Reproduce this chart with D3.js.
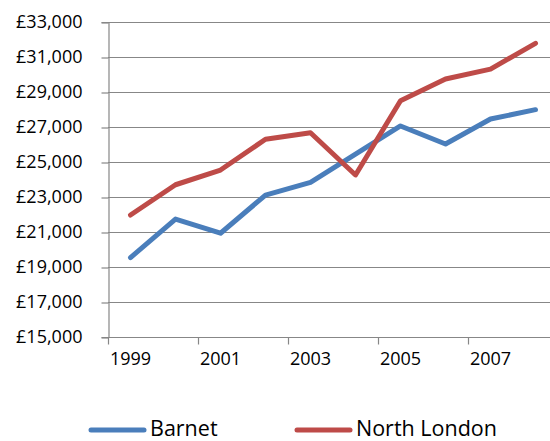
<!DOCTYPE html>
<html>
<head>
<meta charset="utf-8">
<script src="https://cdn.jsdelivr.net/npm/d3@7"></script>
<style>
  html, body { margin: 0; padding: 0; background: #fff; }
  svg { display: block; font-family: "Open Sans", sans-serif; }
</style>
</head>
<body>
<svg id="chart" width="550" height="441"></svg>
<script>
// Average earnings by year
const years = ["1999","2000","2001","2002","2003","2004","2005","2006","2007","2008"];
const barnet = [19540, 21740, 20930, 23110, 23840, 25450, 27060, 26030, 27460, 27990];
const northLondon = [21970, 23700, 24540, 26300, 26670, 24260, 28500, 29740, 30310, 31780];
const yTicks = [15000, 17000, 19000, 21000, 23000, 25000, 27000, 29000, 31000, 33000];
const xLabels = ["1999", "2001", "2003", "2005", "2007"];

const seriesList = [
  { name: "Barnet", values: barnet, color: "#4A7EBB" },
  { name: "North London", values: northLondon, color: "#BE4B48" }
];

const svg = d3.select("#chart");
const gridColor = "#878787";

const x = d3.scaleBand().domain(years).range([108, 558]).padding(0);
const y = d3.scaleLinear().domain([15000, 33000]).range([337, 22]);

// horizontal gridlines
svg.append("g")
  .selectAll("line")
  .data(yTicks)
  .join("line")
  .attr("x1", 108).attr("x2", 560)
  .attr("y1", d => Math.round(y(d)) + 0.5)
  .attr("y2", d => Math.round(y(d)) + 0.5)
  .attr("stroke", gridColor).attr("stroke-width", 1.2);

// y axis
const yAxis = d3.axisLeft(y)
  .tickValues(yTicks)
  .tickSize(7)
  .tickPadding(19)
  .tickFormat(d => "£" + d3.format(",")(d));
const gy = svg.append("g").attr("transform", "translate(108.5,0)").call(yAxis);
gy.select(".domain").attr("stroke", gridColor).attr("stroke-width", 1.2);
gy.selectAll(".tick line").attr("stroke", gridColor).attr("stroke-width", 1.2)
  .attr("transform", "translate(0,0.5)");
gy.selectAll(".tick text").attr("fill", "#000").style("font-size", "18px")
  .style("font-family", "'Open Sans', sans-serif");

// x axis: ticks every second category, labels centred in the category
const gx = svg.append("g").attr("transform", "translate(0,337.5)");
gx.append("line").attr("x1", 108).attr("x2", 560).attr("y1", 0).attr("y2", 0)
  .attr("stroke", gridColor).attr("stroke-width", 1.2);
gx.selectAll("line.tk")
  .data(years.filter((d, i) => i % 2 === 0))
  .join("line").attr("class", "tk")
  .attr("x1", d => Math.round(x(d)) + 0.5).attr("x2", d => Math.round(x(d)) + 0.5)
  .attr("y1", 0).attr("y2", 7)
  .attr("stroke", gridColor).attr("stroke-width", 1.2);
gx.selectAll("text")
  .data(xLabels)
  .join("text")
  .attr("x", d => x(d) + x.bandwidth() / 2)
  .attr("y", 27)
  .attr("text-anchor", "middle")
  .style("font-size", "18px")
  .attr("fill", "#000")
  .text(d => d);

// series lines
const line = d3.line()
  .x((d, i) => x(years[i]) + x.bandwidth() / 2)
  .y(d => y(d));

svg.append("g")
  .selectAll("path")
  .data(seriesList)
  .join("path")
  .attr("d", s => line(s.values))
  .attr("fill", "none")
  .attr("stroke", s => s.color)
  .attr("stroke-width", 5)
  .attr("stroke-linejoin", "round")
  .attr("stroke-linecap", "round");

// legend
const legendPos = [{ x1: 91, x2: 144, tx: 150 }, { x1: 297, x2: 350, tx: 356 }];
const lg = svg.append("g").attr("transform", "translate(0,430)");
seriesList.forEach((s, i) => {
  const p = legendPos[i];
  lg.append("line").attr("x1", p.x1).attr("x2", p.x2).attr("y1", 0).attr("y2", 0)
    .attr("stroke", s.color).attr("stroke-width", 5).attr("stroke-linecap", "round");
  lg.append("text").attr("x", p.tx).attr("y", 0).attr("dy", "0.3em")
    .style("font-size", "21.5px").attr("fill", "#000").text(s.name);
});
</script>
</body>
</html>
